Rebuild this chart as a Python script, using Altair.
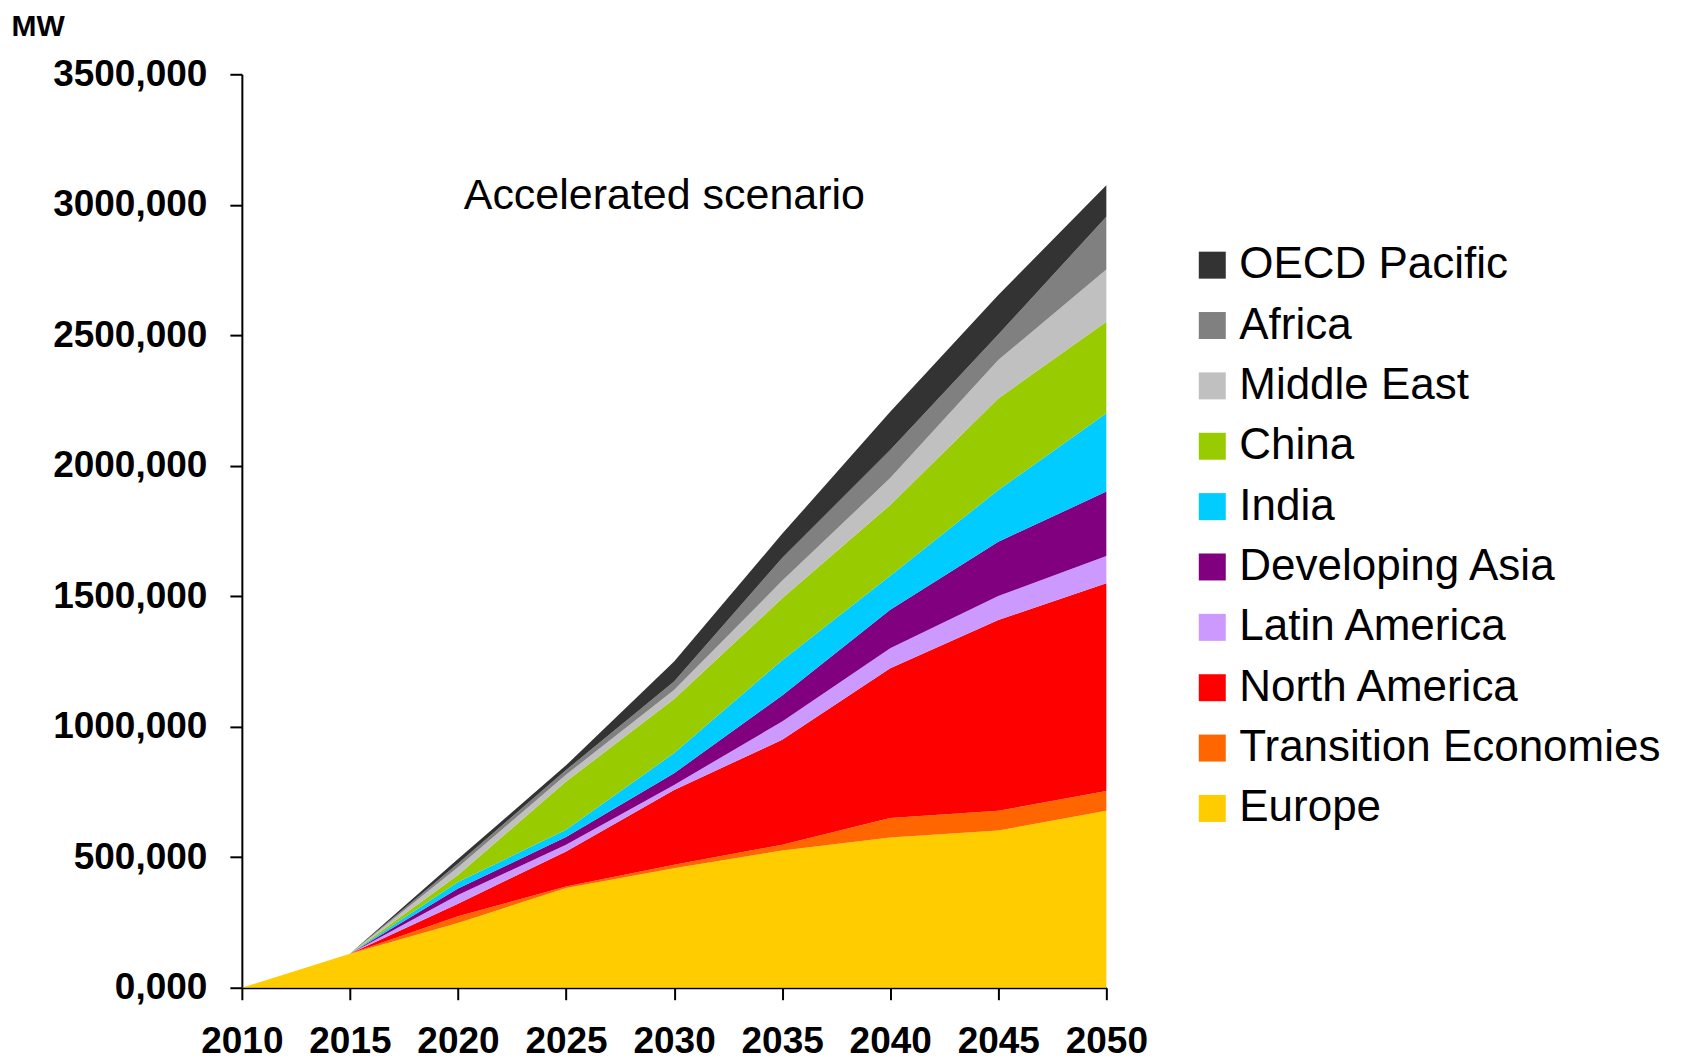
import altair as alt
import pandas as pd

years = [2010, 2015, 2020, 2025, 2030, 2035, 2040, 2045, 2050]
regions = ["OECD Pacific", "Africa", "Middle East", "China", "India",
           "Developing Asia", "Latin America", "North America",
           "Transition Economies", "Europe"]
colors = ["#333333", "#808080", "#C0C0C0", "#99CC00", "#00CCFF",
          "#800080", "#CC99FF", "#FF0000", "#FF6600", "#FFCC00"]

# values in thousand MW, per region (stack bottom = Europe)
europe = [0, 130, 248, 382, 458, 526, 576, 602, 678]
transition = [0, 0, 26, 6, 13, 22, 74, 76, 76]
north_america = [0, 0, 48, 134, 287, 402, 574, 731, 796]
latin_america = [0, 0, 33, 26, 19, 70, 77, 92, 104]
developing_asia = [0, 0, 25, 30, 45, 100, 147, 208, 247]
india = [0, 0, 25, 27, 77, 135, 131, 198, 300]
china = [0, 0, 27, 185, 207, 237, 271, 351, 351]
middle_east = [0, 0, 30, 26, 35, 67, 103, 147, 200]
africa = [0, 0, 14, 18, 32, 88, 107, 98, 202]
oecd_pacific = [0, 0, 17, 18, 77, 92, 147, 151, 121]

series = {
    "Europe": europe,
    "Transition Economies": transition,
    "North America": north_america,
    "Latin America": latin_america,
    "Developing Asia": developing_asia,
    "India": india,
    "China": china,
    "Middle East": middle_east,
    "Africa": africa,
    "OECD Pacific": oecd_pacific,
}

rows = []
for idx, (name, vals) in enumerate(series.items()):
    for yr, v in zip(years, vals):
        rows.append({"year": yr, "region": name, "MW": v * 1000, "idx": idx})
df = pd.DataFrame(rows)

y_ticks = [0, 500000, 1000000, 1500000, 2000000, 2500000, 3000000, 3500000]

areas = alt.Chart(df).mark_area(interpolate="linear", opacity=1).encode(
    x=alt.X("year:Q",
            scale=alt.Scale(domain=[2010, 2050], nice=False, zero=False),
            axis=alt.Axis(values=years, format="d", title=None,
                          labelPadding=24, labelOverlap=False,
                          labelFlush=False)),
    y=alt.Y("MW:Q", stack="zero",
            scale=alt.Scale(domain=[0, 3500000], nice=False),
            axis=alt.Axis(values=y_ticks,
                          labelExpr="replace(format(datum.value/1000, '.3f'), '.', ',')",
                          title="MW", titleAngle=0, titleX=-231, titleY=-39,
                          titleAlign="left", titleBaseline="alphabetic",
                          titleFontSize=30, titleFontWeight="bold",
                          titleFont="Liberation Sans", titleColor="black",
                          labelPadding=23, labelOverlap=False,
                          labelFlush=False)),
    color=alt.Color("region:N",
                    scale=alt.Scale(domain=regions, range=colors),
                    legend=alt.Legend(title=None, orient="none",
                                      legendX=949, legendY=169,
                                      symbolType="square", symbolSize=729,
                                      symbolStrokeWidth=0, symbolOpacity=1,
                                      labelFontSize=44, labelFont="Liberation Sans",
                                      labelColor="black", labelOffset=5,
                                      labelLimit=700, rowPadding=16.4,
                                      padding=0)),
    order=alt.Order("idx:Q", sort="ascending"),
)

title_df = pd.DataFrame({"t": ["Accelerated scenario"]})
title = alt.Chart(title_df).mark_text(
    align="left", baseline="alphabetic", fontSize=43,
    font="Liberation Sans", color="black"
).encode(x=alt.value(222), y=alt.value(135), text="t:N")

chart = alt.layer(areas, title).properties(
    width=865, height=914,
    autosize=alt.AutoSizeParams(type="none"),
    padding={"left": 234, "top": 66, "right": 570, "bottom": 72},
).configure_view(stroke=None).configure_axis(
    grid=False, domainColor="black", domainWidth=2, tickColor="black",
    tickWidth=2, tickSize=12, labelFont="Liberation Sans",
    labelFontWeight="bold", labelFontSize=37, labelColor="black",
)

chart.save("out.html", embed_options={"renderer": "svg", "actions": False})
